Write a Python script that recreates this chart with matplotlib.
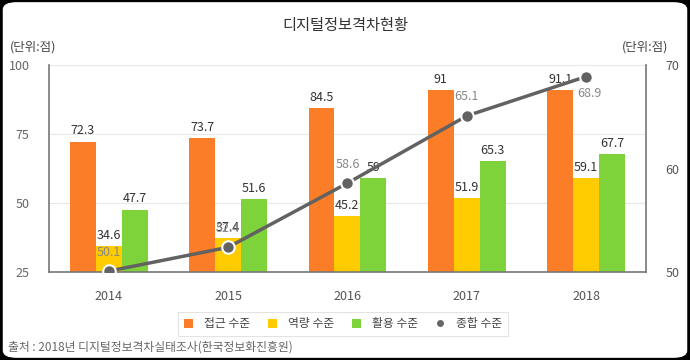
import matplotlib
matplotlib.use("Agg")
from matplotlib import pyplot as plt
from matplotlib.patches import FancyBboxPatch
from matplotlib.lines import Line2D
from matplotlib.patches import Patch
import numpy as np

plt.rcParams['font.family'] = ['Noto Sans CJK KR', 'DejaVu Sans']

years = ["2014", "2015", "2016", "2017", "2018"]
access = [72.3, 73.7, 84.5, 91, 91.1]
ability = [34.6, 37.4, 45.2, 51.9, 59.1]
usage = [47.7, 51.6, 59, 65.3, 67.7]
overall = [50.1, 52.4, 58.6, 65.1, 68.9]

series_names = ["접근 수준", "역량 수준", "활용 수준", "종합 수준"]
colors = ["#fb7d28", "#fecb00", "#7ed23a"]
line_color = "#626262"


def main():
    fig = plt.figure(figsize=(6.9, 3.6), dpi=100)
    fig.patch.set_facecolor("black")
    bg = FancyBboxPatch((0.004, 0.006), 0.992, 0.988,
                        boxstyle="round,pad=0,rounding_size=0.02",
                        transform=fig.transFigure, facecolor="white",
                        edgecolor="none", zorder=-10)
    fig.patches.append(bg)

    ax = fig.add_axes([0.071, 0.244, 0.865, 0.575])
    ax.set_facecolor("none")
    x = np.arange(len(years))
    w = 0.217

    groups = [access, ability, usage]
    for i, vals in enumerate(groups):
        xs = x + (i - 1) * w
        ax.bar(xs, vals, width=w, color=colors[i], zorder=2)
        for xi, v in zip(xs, vals):
            ax.text(xi, v + 1.5, f"{v:g}", ha="center", va="bottom",
                    fontsize=9, color="#333333", zorder=5)

    ax.set_xlim(-0.5, 4.5)
    ax.set_ylim(25, 100)
    ax.set_yticks([25, 50, 75, 100])
    ax.set_xticks(x)
    ax.set_xticklabels(years)
    ax.grid(axis="y", color="#e8e8e8", linewidth=0.8, zorder=0)
    ax.set_axisbelow(True)
    ax.tick_params(length=0, labelsize=9, colors="#666666")
    ax.tick_params(axis="x", pad=13, labelcolor="#555555")
    ax.tick_params(axis="y", pad=14)
    for side in ["left", "bottom", "right"]:
        ax.spines[side].set_color("#777777")
        ax.spines[side].set_linewidth(1.2)
    ax.spines["top"].set_visible(False)

    ax2 = ax.twinx()
    ax2.set_ylim(50, 70)
    ax2.set_yticks([50, 60, 70])
    ax2.tick_params(length=0, labelsize=9, colors="#555555", pad=14)
    for side in ["left", "bottom", "right", "top"]:
        ax2.spines[side].set_visible(False)
    ax2.plot(x, overall, color=line_color, linewidth=2.5, marker="o",
             markersize=9, markerfacecolor=line_color,
             markeredgecolor="white", markeredgewidth=1.5, zorder=4)
    offsets = [(0, 9), (0, 9), (0, 9), (0, 9), (2, -12)]
    for xi, v, (dx, dy) in zip(x, overall, offsets):
        ax2.annotate(f"{v:g}", (xi, v), xytext=(dx, dy),
                     textcoords="offset points", ha="center",
                     va="bottom" if dy > 0 else "center",
                     fontsize=9, color="#888888", zorder=6)

    fig.text(0.5, 0.93, "디지털정보격차현황", ha="center", va="center",
             fontsize=11, color="#333333")
    fig.text(0.015, 0.868, "(단위:점)", ha="left", va="center",
             fontsize=9, color="#444444")
    fig.text(0.968, 0.868, "(단위:점)", ha="right", va="center",
             fontsize=9, color="#444444")
    fig.text(0.012, 0.035, "출처 : 2018년 디지털정보격차실태조사(한국정보화진흥원)",
             ha="left", va="center", fontsize=8.5, color="#666666")

    handles = [Patch(facecolor=c, edgecolor="none") for c in colors]
    handles.append(Line2D([], [], marker="o", color="none",
                          markerfacecolor="#666666", markeredgecolor="none",
                          markersize=5))
    leg = fig.legend(handles, series_names, loc="center",
                     bbox_to_anchor=(0.497, 0.1), ncol=4, frameon=True,
                     fontsize=8.5, handlelength=0.8, handleheight=0.8,
                     handletextpad=0.9, columnspacing=1.5, borderpad=0.5,
                     fancybox=False)
    leg.get_frame().set_edgecolor("#dddddd")
    leg.get_frame().set_linewidth(0.8)
    for t in leg.get_texts():
        t.set_color("#444444")

    fig.savefig("out.png", dpi=100, facecolor=fig.get_facecolor())


if __name__ == "__main__":
    main()
